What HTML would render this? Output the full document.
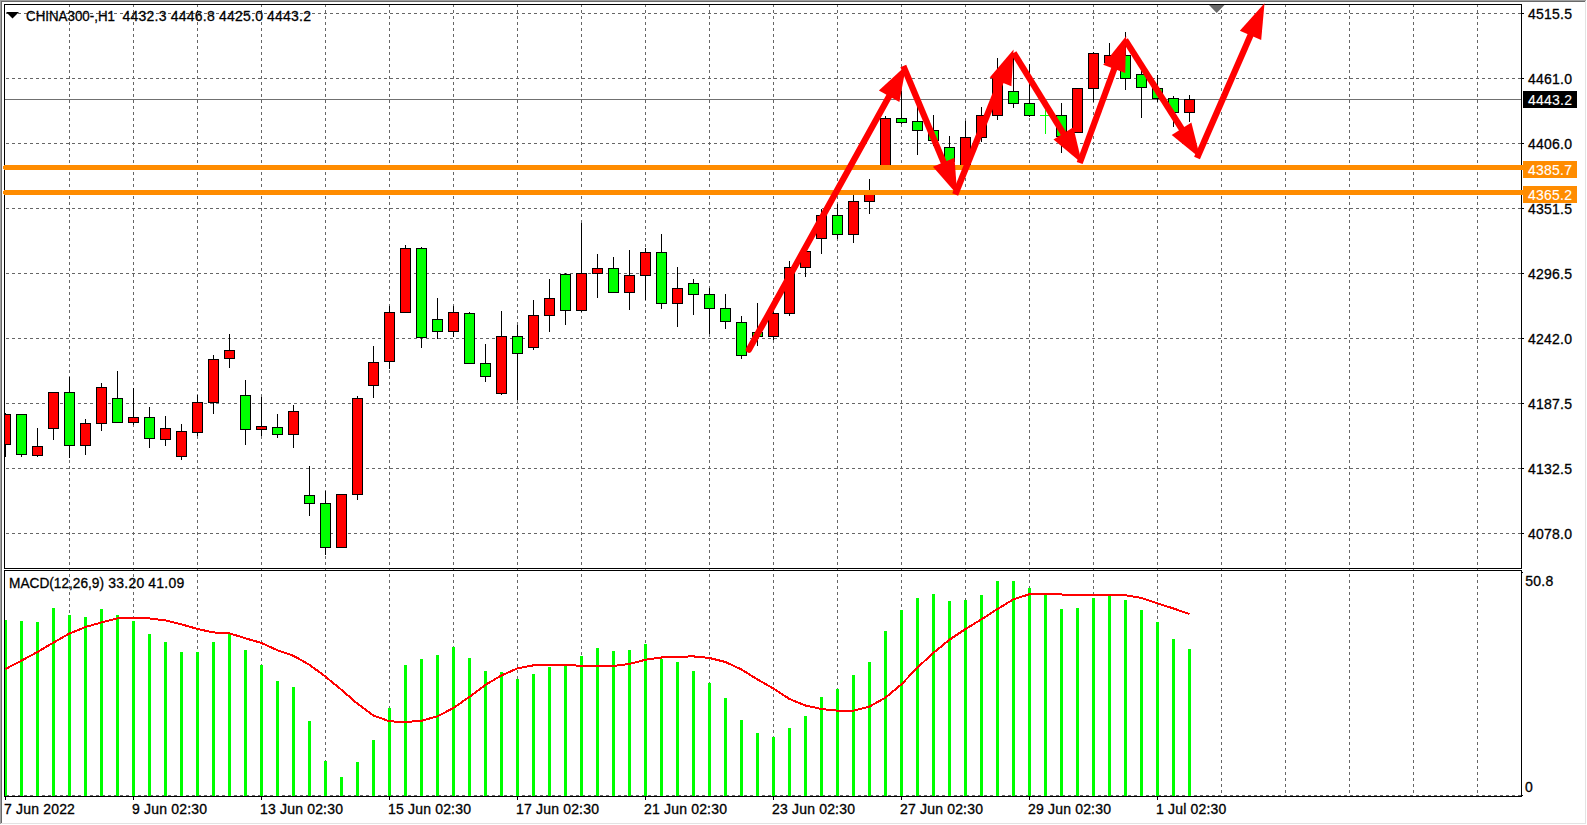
<!DOCTYPE html>
<html lang="en"><head><meta charset="utf-8"><title>CHINA300-,H1</title>
<style>html,body{margin:0;padding:0;background:#fff;overflow:hidden}svg{display:block}text{font-family:"Liberation Sans",Arial,sans-serif;font-size:14px;fill:#000;stroke:#000;stroke-width:.3px}.w{fill:#fff;stroke:#fff;stroke-width:.12px}</style></head><body>
<svg width="1587" height="825" viewBox="0 0 1587 825">
<rect width="1587" height="825" fill="#fff"/>
<g shape-rendering="crispEdges">
<rect x="0" y="0" width="1587" height="1" fill="#a0a0a0"/><rect x="0" y="0" width="1" height="825" fill="#a0a0a0"/>
<rect x="1" y="1" width="1585" height="1" fill="#696969"/><rect x="1" y="1" width="1" height="823" fill="#696969"/>
<rect x="1" y="823" width="1585" height="1" fill="#e3e3e3"/><rect x="1585" y="1" width="1" height="823" fill="#e3e3e3"/>
<rect x="0" y="824" width="1587" height="1" fill="#fff"/><rect x="1586" y="0" width="1" height="825" fill="#fff"/>
</g>
<g shape-rendering="crispEdges" stroke="#666666" stroke-width="1" stroke-dasharray="3 3" fill="none">
<line x1="6" y1="13.5" x2="1521" y2="13.5"/>
<line x1="6" y1="78.5" x2="1521" y2="78.5"/>
<line x1="6" y1="143.5" x2="1521" y2="143.5"/>
<line x1="6" y1="208.5" x2="1521" y2="208.5"/>
<line x1="6" y1="273.5" x2="1521" y2="273.5"/>
<line x1="6" y1="338.5" x2="1521" y2="338.5"/>
<line x1="6" y1="403.5" x2="1521" y2="403.5"/>
<line x1="6" y1="468.5" x2="1521" y2="468.5"/>
<line x1="6" y1="533.5" x2="1521" y2="533.5"/>
<line x1="69.5" y1="4" x2="69.5" y2="796"/>
<line x1="133.5" y1="4" x2="133.5" y2="796"/>
<line x1="197.5" y1="4" x2="197.5" y2="796"/>
<line x1="261.5" y1="4" x2="261.5" y2="796"/>
<line x1="325.5" y1="4" x2="325.5" y2="796"/>
<line x1="389.5" y1="4" x2="389.5" y2="796"/>
<line x1="453.5" y1="4" x2="453.5" y2="796"/>
<line x1="517.5" y1="4" x2="517.5" y2="796"/>
<line x1="581.5" y1="4" x2="581.5" y2="796"/>
<line x1="645.5" y1="4" x2="645.5" y2="796"/>
<line x1="709.5" y1="4" x2="709.5" y2="796"/>
<line x1="773.5" y1="4" x2="773.5" y2="796"/>
<line x1="837.5" y1="4" x2="837.5" y2="796"/>
<line x1="901.5" y1="4" x2="901.5" y2="796"/>
<line x1="965.5" y1="4" x2="965.5" y2="796"/>
<line x1="1029.5" y1="4" x2="1029.5" y2="796"/>
<line x1="1093.5" y1="4" x2="1093.5" y2="796"/>
<line x1="1157.5" y1="4" x2="1157.5" y2="796"/>
<line x1="1221.5" y1="4" x2="1221.5" y2="796"/>
<line x1="1285.5" y1="4" x2="1285.5" y2="796"/>
<line x1="1349.5" y1="4" x2="1349.5" y2="796"/>
<line x1="1413.5" y1="4" x2="1413.5" y2="796"/>
<line x1="1477.5" y1="4" x2="1477.5" y2="796"/>
<line x1="6" y1="795.5" x2="1521" y2="795.5"/>
</g>
<rect x="5" y="99" width="1516" height="1" fill="#707070" shape-rendering="crispEdges"/>
<polygon points="1209,5 1224.5,5 1216.7,13" fill="#696969"/>
<g shape-rendering="crispEdges">
<rect x="5" y="413" width="1" height="44" fill="#000"/>
<rect x="5" y="414" width="6" height="31" fill="#000"/>
<rect x="5" y="415" width="5" height="29" fill="#ff0000"/>
<rect x="21" y="414" width="1" height="43" fill="#000"/>
<rect x="16" y="414" width="11" height="41" fill="#000"/>
<rect x="17" y="415" width="9" height="39" fill="#00ff00"/>
<rect x="37" y="428" width="1" height="29" fill="#000"/>
<rect x="32" y="446" width="11" height="10" fill="#000"/>
<rect x="33" y="447" width="9" height="8" fill="#ff0000"/>
<rect x="53" y="392" width="1" height="48" fill="#000"/>
<rect x="48" y="392" width="11" height="37" fill="#000"/>
<rect x="49" y="393" width="9" height="35" fill="#ff0000"/>
<rect x="69" y="377" width="1" height="81" fill="#000"/>
<rect x="64" y="392" width="11" height="54" fill="#000"/>
<rect x="65" y="393" width="9" height="52" fill="#00ff00"/>
<rect x="85" y="419" width="1" height="36" fill="#000"/>
<rect x="80" y="423" width="11" height="23" fill="#000"/>
<rect x="81" y="424" width="9" height="21" fill="#ff0000"/>
<rect x="101" y="383" width="1" height="48" fill="#000"/>
<rect x="96" y="387" width="11" height="37" fill="#000"/>
<rect x="97" y="388" width="9" height="35" fill="#ff0000"/>
<rect x="117" y="371" width="1" height="52" fill="#000"/>
<rect x="112" y="398" width="11" height="25" fill="#000"/>
<rect x="113" y="399" width="9" height="23" fill="#00ff00"/>
<rect x="133" y="388" width="1" height="37" fill="#000"/>
<rect x="128" y="417" width="11" height="6" fill="#000"/>
<rect x="129" y="418" width="9" height="4" fill="#ff0000"/>
<rect x="149" y="407" width="1" height="41" fill="#000"/>
<rect x="144" y="417" width="11" height="22" fill="#000"/>
<rect x="145" y="418" width="9" height="20" fill="#00ff00"/>
<rect x="165" y="416" width="1" height="30" fill="#000"/>
<rect x="160" y="428" width="11" height="12" fill="#000"/>
<rect x="161" y="429" width="9" height="10" fill="#ff0000"/>
<rect x="181" y="424" width="1" height="36" fill="#000"/>
<rect x="176" y="431" width="11" height="26" fill="#000"/>
<rect x="177" y="432" width="9" height="24" fill="#ff0000"/>
<rect x="197" y="395" width="1" height="41" fill="#000"/>
<rect x="192" y="402" width="11" height="31" fill="#000"/>
<rect x="193" y="403" width="9" height="29" fill="#ff0000"/>
<rect x="213" y="355" width="1" height="59" fill="#000"/>
<rect x="208" y="359" width="11" height="44" fill="#000"/>
<rect x="209" y="360" width="9" height="42" fill="#ff0000"/>
<rect x="229" y="334" width="1" height="34" fill="#000"/>
<rect x="224" y="350" width="11" height="9" fill="#000"/>
<rect x="225" y="351" width="9" height="7" fill="#ff0000"/>
<rect x="245" y="380" width="1" height="65" fill="#000"/>
<rect x="240" y="395" width="11" height="35" fill="#000"/>
<rect x="241" y="396" width="9" height="33" fill="#00ff00"/>
<rect x="261" y="397" width="1" height="39" fill="#000"/>
<rect x="256" y="426" width="11" height="4" fill="#000"/>
<rect x="257" y="427" width="9" height="2" fill="#ff0000"/>
<rect x="277" y="414" width="1" height="24" fill="#000"/>
<rect x="272" y="427" width="11" height="8" fill="#000"/>
<rect x="273" y="428" width="9" height="6" fill="#00ff00"/>
<rect x="293" y="405" width="1" height="43" fill="#000"/>
<rect x="288" y="411" width="11" height="24" fill="#000"/>
<rect x="289" y="412" width="9" height="22" fill="#ff0000"/>
<rect x="309" y="466" width="1" height="50" fill="#000"/>
<rect x="304" y="495" width="11" height="9" fill="#000"/>
<rect x="305" y="496" width="9" height="7" fill="#00ff00"/>
<rect x="325" y="491" width="1" height="64" fill="#000"/>
<rect x="320" y="503" width="11" height="45" fill="#000"/>
<rect x="321" y="504" width="9" height="43" fill="#00ff00"/>
<rect x="341" y="494" width="1" height="54" fill="#000"/>
<rect x="336" y="494" width="11" height="54" fill="#000"/>
<rect x="337" y="495" width="9" height="52" fill="#ff0000"/>
<rect x="357" y="396" width="1" height="104" fill="#000"/>
<rect x="352" y="398" width="11" height="97" fill="#000"/>
<rect x="353" y="399" width="9" height="95" fill="#ff0000"/>
<rect x="373" y="346" width="1" height="52" fill="#000"/>
<rect x="368" y="362" width="11" height="24" fill="#000"/>
<rect x="369" y="363" width="9" height="22" fill="#ff0000"/>
<rect x="389" y="306" width="1" height="63" fill="#000"/>
<rect x="384" y="312" width="11" height="50" fill="#000"/>
<rect x="385" y="313" width="9" height="48" fill="#ff0000"/>
<rect x="405" y="245" width="1" height="68" fill="#000"/>
<rect x="400" y="248" width="11" height="65" fill="#000"/>
<rect x="401" y="249" width="9" height="63" fill="#ff0000"/>
<rect x="421" y="247" width="1" height="101" fill="#000"/>
<rect x="416" y="248" width="11" height="90" fill="#000"/>
<rect x="417" y="249" width="9" height="88" fill="#00ff00"/>
<rect x="437" y="298" width="1" height="41" fill="#000"/>
<rect x="432" y="319" width="11" height="13" fill="#000"/>
<rect x="433" y="320" width="9" height="11" fill="#00ff00"/>
<rect x="453" y="306" width="1" height="31" fill="#000"/>
<rect x="448" y="312" width="11" height="20" fill="#000"/>
<rect x="449" y="313" width="9" height="18" fill="#ff0000"/>
<rect x="469" y="312" width="1" height="52" fill="#000"/>
<rect x="464" y="313" width="11" height="51" fill="#000"/>
<rect x="465" y="314" width="9" height="49" fill="#00ff00"/>
<rect x="485" y="344" width="1" height="38" fill="#000"/>
<rect x="480" y="363" width="11" height="14" fill="#000"/>
<rect x="481" y="364" width="9" height="12" fill="#00ff00"/>
<rect x="501" y="311" width="1" height="84" fill="#000"/>
<rect x="496" y="336" width="11" height="58" fill="#000"/>
<rect x="497" y="337" width="9" height="56" fill="#ff0000"/>
<rect x="517" y="325" width="1" height="75" fill="#000"/>
<rect x="512" y="336" width="11" height="18" fill="#000"/>
<rect x="513" y="337" width="9" height="16" fill="#00ff00"/>
<rect x="533" y="300" width="1" height="50" fill="#000"/>
<rect x="528" y="315" width="11" height="33" fill="#000"/>
<rect x="529" y="316" width="9" height="31" fill="#ff0000"/>
<rect x="549" y="279" width="1" height="53" fill="#000"/>
<rect x="544" y="298" width="11" height="18" fill="#000"/>
<rect x="545" y="299" width="9" height="16" fill="#ff0000"/>
<rect x="565" y="273" width="1" height="52" fill="#000"/>
<rect x="560" y="274" width="11" height="37" fill="#000"/>
<rect x="561" y="275" width="9" height="35" fill="#00ff00"/>
<rect x="581" y="223" width="1" height="89" fill="#000"/>
<rect x="576" y="273" width="11" height="38" fill="#000"/>
<rect x="577" y="274" width="9" height="36" fill="#ff0000"/>
<rect x="597" y="254" width="1" height="44" fill="#000"/>
<rect x="592" y="268" width="11" height="6" fill="#000"/>
<rect x="593" y="269" width="9" height="4" fill="#ff0000"/>
<rect x="613" y="257" width="1" height="36" fill="#000"/>
<rect x="608" y="268" width="11" height="25" fill="#000"/>
<rect x="609" y="269" width="9" height="23" fill="#00ff00"/>
<rect x="629" y="250" width="1" height="60" fill="#000"/>
<rect x="624" y="275" width="11" height="18" fill="#000"/>
<rect x="625" y="276" width="9" height="16" fill="#ff0000"/>
<rect x="645" y="248" width="1" height="52" fill="#000"/>
<rect x="640" y="252" width="11" height="24" fill="#000"/>
<rect x="641" y="253" width="9" height="22" fill="#ff0000"/>
<rect x="661" y="234" width="1" height="75" fill="#000"/>
<rect x="656" y="252" width="11" height="52" fill="#000"/>
<rect x="657" y="253" width="9" height="50" fill="#00ff00"/>
<rect x="677" y="267" width="1" height="60" fill="#000"/>
<rect x="672" y="288" width="11" height="16" fill="#000"/>
<rect x="673" y="289" width="9" height="14" fill="#ff0000"/>
<rect x="693" y="279" width="1" height="36" fill="#000"/>
<rect x="688" y="283" width="11" height="12" fill="#000"/>
<rect x="689" y="284" width="9" height="10" fill="#00ff00"/>
<rect x="709" y="288" width="1" height="46" fill="#000"/>
<rect x="704" y="294" width="11" height="15" fill="#000"/>
<rect x="705" y="295" width="9" height="13" fill="#00ff00"/>
<rect x="725" y="294" width="1" height="35" fill="#000"/>
<rect x="720" y="308" width="11" height="14" fill="#000"/>
<rect x="721" y="309" width="9" height="12" fill="#00ff00"/>
<rect x="741" y="316" width="1" height="43" fill="#000"/>
<rect x="736" y="322" width="11" height="34" fill="#000"/>
<rect x="737" y="323" width="9" height="32" fill="#00ff00"/>
<rect x="757" y="303" width="1" height="43" fill="#000"/>
<rect x="752" y="332" width="11" height="5" fill="#000"/>
<rect x="753" y="333" width="9" height="3" fill="#00ff00"/>
<rect x="773" y="299" width="1" height="41" fill="#000"/>
<rect x="768" y="313" width="11" height="24" fill="#000"/>
<rect x="769" y="314" width="9" height="22" fill="#ff0000"/>
<rect x="789" y="261" width="1" height="55" fill="#000"/>
<rect x="784" y="267" width="11" height="47" fill="#000"/>
<rect x="785" y="268" width="9" height="45" fill="#ff0000"/>
<rect x="805" y="245" width="1" height="32" fill="#000"/>
<rect x="800" y="251" width="11" height="17" fill="#000"/>
<rect x="801" y="252" width="9" height="15" fill="#ff0000"/>
<rect x="821" y="209" width="1" height="45" fill="#000"/>
<rect x="816" y="215" width="11" height="24" fill="#000"/>
<rect x="817" y="216" width="9" height="22" fill="#ff0000"/>
<rect x="837" y="204" width="1" height="35" fill="#000"/>
<rect x="832" y="215" width="11" height="20" fill="#000"/>
<rect x="833" y="216" width="9" height="18" fill="#00ff00"/>
<rect x="853" y="195" width="1" height="48" fill="#000"/>
<rect x="848" y="201" width="11" height="34" fill="#000"/>
<rect x="849" y="202" width="9" height="32" fill="#ff0000"/>
<rect x="869" y="179" width="1" height="35" fill="#000"/>
<rect x="864" y="190" width="11" height="12" fill="#000"/>
<rect x="865" y="191" width="9" height="10" fill="#ff0000"/>
<rect x="885" y="116" width="1" height="51" fill="#000"/>
<rect x="880" y="118" width="11" height="49" fill="#000"/>
<rect x="881" y="119" width="9" height="47" fill="#ff0000"/>
<rect x="901" y="91" width="1" height="33" fill="#000"/>
<rect x="896" y="118" width="11" height="5" fill="#000"/>
<rect x="897" y="119" width="9" height="3" fill="#00ff00"/>
<rect x="917" y="107" width="1" height="48" fill="#000"/>
<rect x="912" y="121" width="11" height="10" fill="#000"/>
<rect x="913" y="122" width="9" height="8" fill="#00ff00"/>
<rect x="933" y="115" width="1" height="31" fill="#000"/>
<rect x="928" y="130" width="11" height="11" fill="#000"/>
<rect x="929" y="131" width="9" height="9" fill="#00ff00"/>
<rect x="949" y="136" width="1" height="29" fill="#000"/>
<rect x="944" y="147" width="11" height="15" fill="#000"/>
<rect x="945" y="148" width="9" height="13" fill="#00ff00"/>
<rect x="965" y="121" width="1" height="46" fill="#000"/>
<rect x="960" y="137" width="11" height="30" fill="#000"/>
<rect x="961" y="138" width="9" height="28" fill="#ff0000"/>
<rect x="981" y="107" width="1" height="35" fill="#000"/>
<rect x="976" y="115" width="11" height="23" fill="#000"/>
<rect x="977" y="116" width="9" height="21" fill="#ff0000"/>
<rect x="997" y="58" width="1" height="62" fill="#000"/>
<rect x="992" y="78" width="11" height="38" fill="#000"/>
<rect x="993" y="79" width="9" height="36" fill="#ff0000"/>
<rect x="1013" y="53" width="1" height="55" fill="#000"/>
<rect x="1008" y="91" width="11" height="13" fill="#000"/>
<rect x="1009" y="92" width="9" height="11" fill="#00ff00"/>
<rect x="1029" y="64" width="1" height="53" fill="#000"/>
<rect x="1024" y="103" width="11" height="13" fill="#000"/>
<rect x="1025" y="104" width="9" height="11" fill="#00ff00"/>
<rect x="1045" y="110" width="1" height="24" fill="#00ff00"/>
<rect x="1040" y="115" width="9" height="1" fill="#00ff00"/>
<rect x="1061" y="103" width="1" height="50" fill="#000"/>
<rect x="1056" y="115" width="11" height="22" fill="#000"/>
<rect x="1057" y="116" width="9" height="20" fill="#00ff00"/>
<rect x="1077" y="88" width="1" height="45" fill="#000"/>
<rect x="1072" y="88" width="11" height="45" fill="#000"/>
<rect x="1073" y="89" width="9" height="43" fill="#ff0000"/>
<rect x="1093" y="52" width="1" height="50" fill="#000"/>
<rect x="1088" y="53" width="11" height="36" fill="#000"/>
<rect x="1089" y="54" width="9" height="34" fill="#ff0000"/>
<rect x="1109" y="43" width="1" height="20" fill="#000"/>
<rect x="1104" y="55" width="11" height="8" fill="#000"/>
<rect x="1105" y="56" width="9" height="6" fill="#ff0000"/>
<rect x="1125" y="32" width="1" height="58" fill="#000"/>
<rect x="1120" y="55" width="11" height="24" fill="#000"/>
<rect x="1121" y="56" width="9" height="22" fill="#00ff00"/>
<rect x="1141" y="70" width="1" height="48" fill="#000"/>
<rect x="1136" y="74" width="11" height="14" fill="#000"/>
<rect x="1137" y="75" width="9" height="12" fill="#00ff00"/>
<rect x="1157" y="75" width="1" height="27" fill="#000"/>
<rect x="1152" y="88" width="11" height="11" fill="#000"/>
<rect x="1153" y="89" width="9" height="9" fill="#00ff00"/>
<rect x="1173" y="96" width="1" height="31" fill="#000"/>
<rect x="1168" y="98" width="11" height="15" fill="#000"/>
<rect x="1169" y="99" width="9" height="13" fill="#00ff00"/>
<rect x="1189" y="95" width="1" height="27" fill="#000"/>
<rect x="1184" y="99" width="11" height="14" fill="#000"/>
<rect x="1185" y="100" width="9" height="12" fill="#ff0000"/>
</g>
<g shape-rendering="crispEdges" fill="#00ff00">
<rect x="5" y="620" width="2" height="176"/>
<rect x="20" y="621" width="3" height="175"/>
<rect x="36" y="622" width="3" height="174"/>
<rect x="52" y="608" width="3" height="188"/>
<rect x="68" y="615" width="3" height="181"/>
<rect x="84" y="617" width="3" height="179"/>
<rect x="100" y="609" width="3" height="187"/>
<rect x="116" y="615" width="3" height="181"/>
<rect x="132" y="621" width="3" height="175"/>
<rect x="148" y="634" width="3" height="162"/>
<rect x="164" y="642" width="3" height="154"/>
<rect x="180" y="652" width="3" height="144"/>
<rect x="196" y="652" width="3" height="144"/>
<rect x="212" y="642" width="3" height="154"/>
<rect x="228" y="634" width="3" height="162"/>
<rect x="244" y="650" width="3" height="146"/>
<rect x="260" y="665" width="3" height="131"/>
<rect x="276" y="681" width="3" height="115"/>
<rect x="292" y="687" width="3" height="109"/>
<rect x="308" y="721" width="3" height="75"/>
<rect x="324" y="761" width="3" height="35"/>
<rect x="340" y="777" width="3" height="19"/>
<rect x="356" y="762" width="3" height="34"/>
<rect x="372" y="740" width="3" height="56"/>
<rect x="388" y="708" width="3" height="88"/>
<rect x="404" y="665" width="3" height="131"/>
<rect x="420" y="659" width="3" height="137"/>
<rect x="436" y="655" width="3" height="141"/>
<rect x="452" y="647" width="3" height="149"/>
<rect x="468" y="658" width="3" height="138"/>
<rect x="484" y="671" width="3" height="125"/>
<rect x="500" y="672" width="3" height="124"/>
<rect x="516" y="679" width="3" height="117"/>
<rect x="532" y="674" width="3" height="122"/>
<rect x="548" y="667" width="3" height="129"/>
<rect x="564" y="665" width="3" height="131"/>
<rect x="580" y="656" width="3" height="140"/>
<rect x="596" y="648" width="3" height="148"/>
<rect x="612" y="651" width="3" height="145"/>
<rect x="628" y="650" width="3" height="146"/>
<rect x="644" y="644" width="3" height="152"/>
<rect x="660" y="659" width="3" height="137"/>
<rect x="676" y="662" width="3" height="134"/>
<rect x="692" y="671" width="3" height="125"/>
<rect x="708" y="683" width="3" height="113"/>
<rect x="724" y="698" width="3" height="98"/>
<rect x="740" y="720" width="3" height="76"/>
<rect x="756" y="733" width="3" height="63"/>
<rect x="772" y="737" width="3" height="59"/>
<rect x="788" y="728" width="3" height="68"/>
<rect x="804" y="716" width="3" height="80"/>
<rect x="820" y="697" width="3" height="99"/>
<rect x="836" y="689" width="3" height="107"/>
<rect x="852" y="675" width="3" height="121"/>
<rect x="868" y="662" width="3" height="134"/>
<rect x="884" y="631" width="3" height="165"/>
<rect x="900" y="610" width="3" height="186"/>
<rect x="916" y="598" width="3" height="198"/>
<rect x="932" y="594" width="3" height="202"/>
<rect x="948" y="601" width="3" height="195"/>
<rect x="964" y="600" width="3" height="196"/>
<rect x="980" y="595" width="3" height="201"/>
<rect x="996" y="581" width="3" height="215"/>
<rect x="1012" y="581" width="3" height="215"/>
<rect x="1028" y="588" width="3" height="208"/>
<rect x="1044" y="594" width="3" height="202"/>
<rect x="1060" y="609" width="3" height="187"/>
<rect x="1076" y="608" width="3" height="188"/>
<rect x="1092" y="598" width="3" height="198"/>
<rect x="1108" y="596" width="3" height="200"/>
<rect x="1124" y="600" width="3" height="196"/>
<rect x="1140" y="610" width="3" height="186"/>
<rect x="1156" y="622" width="3" height="174"/>
<rect x="1172" y="639" width="3" height="157"/>
<rect x="1188" y="649" width="3" height="147"/>
</g>
<polyline points="5.5,669.0 21.5,660.6 37.5,652.0 53.5,642.5 69.5,633.5 85.5,627.0 101.5,622.4 117.5,618.3 133.5,618.0 149.5,618.5 165.5,620.4 181.5,624.3 197.5,629.0 213.5,632.4 229.5,633.3 245.5,638.3 261.5,643.0 277.5,650.3 293.5,655.8 309.5,664.8 325.5,676.7 341.5,689.8 357.5,703.8 373.5,715.5 389.5,721.3 405.5,722.0 421.5,720.8 437.5,716.3 453.5,708.0 469.5,696.8 485.5,684.8 501.5,675.4 517.5,668.4 533.5,665.3 549.5,665.3 565.5,665.3 581.5,665.6 597.5,666.0 613.5,665.9 629.5,664.0 645.5,659.7 661.5,657.5 677.5,656.7 693.5,656.4 709.5,658.0 725.5,662.0 741.5,669.5 757.5,679.5 773.5,688.5 789.5,699.0 805.5,705.5 821.5,709.0 837.5,710.7 853.5,710.7 869.5,706.6 885.5,697.6 901.5,684.3 917.5,667.5 933.5,652.8 949.5,639.7 965.5,629.0 981.5,619.3 997.5,609.0 1013.5,599.3 1029.5,594.2 1045.5,594.2 1061.5,594.5 1077.5,595.0 1093.5,595.0 1109.5,595.0 1125.5,595.2 1141.5,598.0 1157.5,603.4 1173.5,608.5 1189.5,614.0" fill="none" stroke="#ff0000" stroke-width="2" stroke-linejoin="round" shape-rendering="crispEdges"/>
<g shape-rendering="crispEdges" fill="#000">
<rect x="4" y="4" width="1518" height="1"/>
<rect x="4" y="568" width="1518" height="1"/>
<rect x="4" y="570" width="1518" height="1"/>
<rect x="4" y="796" width="1518" height="1"/>
<rect x="4" y="4" width="1" height="565"/><rect x="4" y="570" width="1" height="227"/>
<rect x="1521" y="4" width="1" height="565"/><rect x="1521" y="570" width="1" height="227"/>
<rect x="1522" y="13" width="2" height="1"/>
<rect x="1522" y="78" width="2" height="1"/>
<rect x="1522" y="143" width="2" height="1"/>
<rect x="1522" y="208" width="2" height="1"/>
<rect x="1522" y="273" width="2" height="1"/>
<rect x="1522" y="338" width="2" height="1"/>
<rect x="1522" y="403" width="2" height="1"/>
<rect x="1522" y="468" width="2" height="1"/>
<rect x="1522" y="533" width="2" height="1"/>
<rect x="1522" y="572" width="1" height="1"/>
<rect x="1522" y="795" width="1" height="1"/>
<rect x="5" y="797" width="1" height="3"/>
<rect x="133" y="797" width="1" height="3"/>
<rect x="261" y="797" width="1" height="3"/>
<rect x="389" y="797" width="1" height="3"/>
<rect x="517" y="797" width="1" height="3"/>
<rect x="645" y="797" width="1" height="3"/>
<rect x="773" y="797" width="1" height="3"/>
<rect x="901" y="797" width="1" height="3"/>
<rect x="1029" y="797" width="1" height="3"/>
<rect x="1157" y="797" width="1" height="3"/>
</g>
<g shape-rendering="crispEdges" fill="#ff8c00">
<rect x="4" y="165" width="1520" height="5"/><rect x="4" y="190" width="1520" height="5"/>
<rect x="3" y="166" width="1" height="3"/><rect x="3" y="191" width="1" height="3"/>
<rect x="1523" y="161" width="54" height="17"/><rect x="1523" y="186" width="54" height="17"/>
</g>
<g fill="#ff0000" stroke="none">
<line x1="748.9" y1="349.6" x2="890.1" y2="94.5" stroke="#ff0000" stroke-width="6.3" stroke-linecap="round"/>
<polygon points="906.1,65.6 899.4,101.9 878.9,90.6"/>
<line x1="903.3" y1="66.0" x2="944.4" y2="164.1" stroke="#ff0000" stroke-width="6.3" stroke-linecap="butt"/>
<polygon points="957.2,194.5 932.9,166.7 954.5,157.7"/>
<line x1="955.2" y1="194.5" x2="1001.3" y2="80.0" stroke="#ff0000" stroke-width="6.3" stroke-linecap="butt"/>
<polygon points="1013.6,49.4 1011.4,86.2 989.7,77.5"/>
<line x1="1013.7" y1="52.9" x2="1064.5" y2="135.1" stroke="#ff0000" stroke-width="6.3" stroke-linecap="butt"/>
<polygon points="1081.9,163.2 1053.5,139.6 1073.4,127.3"/>
<line x1="1079.7" y1="163.0" x2="1114.9" y2="67.0" stroke="#ff0000" stroke-width="6.3" stroke-linecap="butt"/>
<polygon points="1126.2,36.0 1125.2,72.9 1103.2,64.8"/>
<line x1="1125.2" y1="39.9" x2="1182.6" y2="130.3" stroke="#ff0000" stroke-width="6.3" stroke-linecap="butt"/>
<polygon points="1200.3,158.2 1171.7,134.9 1191.4,122.4"/>
<line x1="1197.0" y1="158.0" x2="1251.3" y2="33.5" stroke="#ff0000" stroke-width="6.3" stroke-linecap="butt"/>
<polygon points="1264.5,3.3 1261.2,40.1 1239.8,30.7"/>
</g>
<rect x="1523" y="91" width="54" height="17" fill="#000" shape-rendering="crispEdges"/>
<polygon points="6,12 19,12 12.5,18.5" fill="#000"/>
<text x="26" y="21" textLength="89" lengthAdjust="spacingAndGlyphs">CHINA300-,H1</text>
<text x="122.5" y="21" textLength="44" lengthAdjust="spacing">4432.3</text>
<text x="170.7" y="21" textLength="44" lengthAdjust="spacing">4446.8</text>
<text x="219" y="21" textLength="44" lengthAdjust="spacing">4425.0</text>
<text x="267" y="21" textLength="44" lengthAdjust="spacing">4443.2</text>
<text x="9" y="588" textLength="95" lengthAdjust="spacingAndGlyphs">MACD(12,26,9)</text>
<text x="108.3" y="588" textLength="36" lengthAdjust="spacing">33.20</text>
<text x="148.3" y="588" textLength="36" lengthAdjust="spacing">41.09</text>
<text x="1528" y="19" textLength="44" lengthAdjust="spacing">4515.5</text>
<text x="1528" y="84" textLength="44" lengthAdjust="spacing">4461.0</text>
<text x="1528" y="149" textLength="44" lengthAdjust="spacing">4406.0</text>
<text x="1528" y="214" textLength="44" lengthAdjust="spacing">4351.5</text>
<text x="1528" y="279" textLength="44" lengthAdjust="spacing">4296.5</text>
<text x="1528" y="344" textLength="44" lengthAdjust="spacing">4242.0</text>
<text x="1528" y="409" textLength="44" lengthAdjust="spacing">4187.5</text>
<text x="1528" y="474" textLength="44" lengthAdjust="spacing">4132.5</text>
<text x="1528" y="539" textLength="44" lengthAdjust="spacing">4078.0</text>
<text x="1528" y="105" class="w" textLength="44" lengthAdjust="spacing">4443.2</text>
<text x="1528" y="175" class="w" textLength="44" lengthAdjust="spacing">4385.7</text>
<text x="1528" y="200" class="w" textLength="44" lengthAdjust="spacing">4365.2</text>
<text x="1525.3" y="586" textLength="28" lengthAdjust="spacing">50.8</text>
<text x="1525" y="792">0</text>
<text x="4" y="814" letter-spacing="0.18">7 Jun 2022</text>
<text x="132" y="814" letter-spacing="0.18">9 Jun 02:30</text>
<text x="260" y="814" letter-spacing="0.18">13 Jun 02:30</text>
<text x="388" y="814" letter-spacing="0.18">15 Jun 02:30</text>
<text x="516" y="814" letter-spacing="0.18">17 Jun 02:30</text>
<text x="644" y="814" letter-spacing="0.18">21 Jun 02:30</text>
<text x="772" y="814" letter-spacing="0.18">23 Jun 02:30</text>
<text x="900" y="814" letter-spacing="0.18">27 Jun 02:30</text>
<text x="1028" y="814" letter-spacing="0.18">29 Jun 02:30</text>
<text x="1156" y="814" letter-spacing="0.18">1 Jul 02:30</text>
</svg></body></html>
